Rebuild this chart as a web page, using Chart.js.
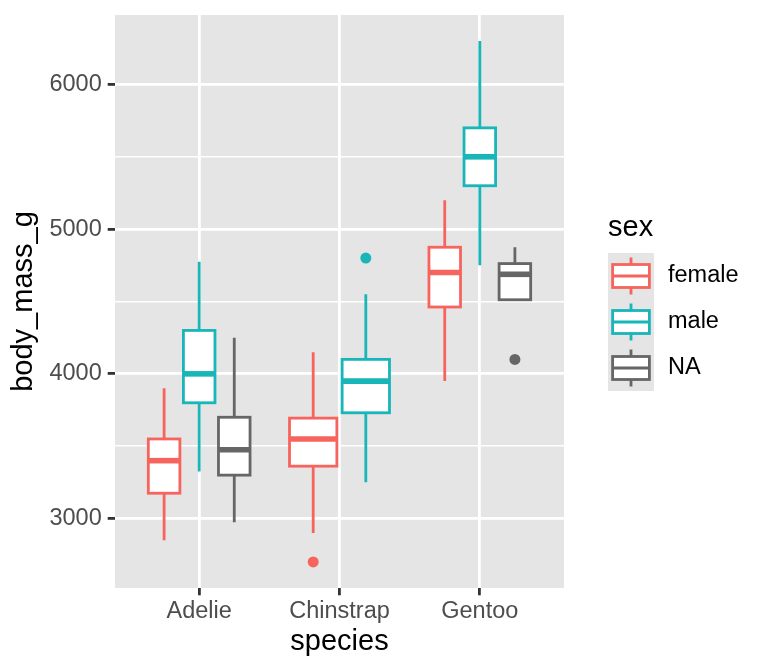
<!DOCTYPE html>
<html lang="en">
<head>
<meta charset="UTF-8">
<title>body_mass_g by species and sex</title>
<script src="https://cdn.jsdelivr.net/npm/chart.js"></script>
<style>
    html, body { margin: 0; padding: 0; background: #ffffff; }
    .wrap { width: 768px; height: 672px; position: relative; }
</style>
</head>
<body>
<div class="wrap"><canvas id="massChart"></canvas></div>
<script>
const species = ['Adelie', 'Chinstrap', 'Gentoo'];
const sexes = ['female', 'male', 'NA'];
const sexColors = ['#F6645D', '#18B5B9', '#666666'];

// [lower whisker, q1, median, q3, upper whisker] per species, null = no group
const femaleStats = [[2850, 3175, 3400, 3550, 3900], [2900, 3362, 3550, 3694, 4150], [3950, 4462, 4700, 4875, 5200]];
const maleStats = [[3325, 3800, 4000, 4300, 4775], [3250, 3731, 3950, 4100, 4550], [4750, 5300, 5500, 5700, 6300]];
const naStats = [[2975, 3300, 3475, 3700, 4250], null, [4512, 4512, 4688, 4762, 4875]];

const femaleOutliers = [[], [2700], []];
const maleOutliers = [[], [4800], []];
const naOutliers = [[], [], [4100]];

const yTicks = [3000, 3500, 4000, 4500, 5000, 5500, 6000];

const allStats = [femaleStats, maleStats, naStats];
const allOutliers = [femaleOutliers, maleOutliers, naOutliers];
const dodgeWidth = 0.75;
const panelGrey = '#E5E5E5';
const fontFamily = '"Liberation Sans", Arial, Helvetica, sans-serif';

// ggplot-style dodge: groups present in a species share the dodge width
function dodge(s, g) {
    const present = allStats.map((st, i) => st[s] ? i : -1).filter(i => i >= 0);
    const slot = dodgeWidth / present.length;
    const k = present.indexOf(g);
    return { x: s + 1 - dodgeWidth / 2 + slot * (k + 0.5), w: slot * 0.9 };
}

const panelBackground = {
    id: 'panelBackground',
    beforeDraw(chart) {
        const { ctx, chartArea: a } = chart;
        ctx.save();
        ctx.fillStyle = panelGrey;
        ctx.fillRect(a.left, a.top, a.right - a.left, a.bottom - a.top);
        ctx.restore();
    }
};

const boxPlot = {
    id: 'boxPlot',
    beforeDatasetsDraw(chart) {
        const { ctx, scales: { x, y } } = chart;
        chart.data.datasets.forEach((ds, g) => {
            ds.boxes.forEach((st, s) => {
                if (!st) return;
                const d = dodge(s, g);
                const cx = x.getPixelForValue(d.x);
                const left = x.getPixelForValue(d.x - d.w / 2);
                const right = x.getPixelForValue(d.x + d.w / 2);
                const [lo, q1, med, q3, hi] = st.map(v => y.getPixelForValue(v));
                ctx.save();
                ctx.strokeStyle = ds.backgroundColor;
                ctx.lineWidth = 2.8;
                ctx.beginPath();
                ctx.moveTo(cx, q3); ctx.lineTo(cx, hi);
                ctx.moveTo(cx, q1); ctx.lineTo(cx, lo);
                ctx.stroke();
                ctx.fillStyle = '#ffffff';
                ctx.fillRect(left, q3, right - left, q1 - q3);
                ctx.strokeRect(left, q3, right - left, q1 - q3);
                ctx.lineWidth = 5.6;
                ctx.beginPath();
                ctx.moveTo(left, med); ctx.lineTo(right, med);
                ctx.stroke();
                ctx.restore();
            });
        });
    }
};

// legend drawn like a ggplot guide: title, grey key column, box glyphs
const boxLegend = {
    id: 'boxLegend',
    afterDraw(chart) {
        const { ctx } = chart;
        const keyX = 608, keyTop = 253, keySize = 46;
        ctx.save();
        ctx.fillStyle = '#000000';
        ctx.font = '29px ' + fontFamily;
        ctx.textBaseline = 'alphabetic';
        ctx.textAlign = 'left';
        ctx.fillText('sex', keyX, 236);
        ctx.fillStyle = panelGrey;
        ctx.fillRect(keyX, keyTop, keySize, keySize * sexes.length);
        sexes.forEach((name, i) => {
            const cy = keyTop + keySize * (i + 0.5);
            const cx = keyX + keySize / 2;
            const bw = keySize * 0.8, bh = keySize * 0.5;
            ctx.strokeStyle = sexColors[i];
            ctx.lineWidth = 2.8;
            ctx.beginPath();
            ctx.moveTo(cx, cy - keySize * 0.4); ctx.lineTo(cx, cy - bh / 2);
            ctx.moveTo(cx, cy + bh / 2); ctx.lineTo(cx, cy + keySize * 0.4);
            ctx.stroke();
            ctx.fillStyle = '#ffffff';
            ctx.fillRect(cx - bw / 2, cy - bh / 2, bw, bh);
            ctx.strokeRect(cx - bw / 2, cy - bh / 2, bw, bh);
            ctx.beginPath();
            ctx.moveTo(cx - bw / 2, cy); ctx.lineTo(cx + bw / 2, cy);
            ctx.stroke();
            ctx.fillStyle = '#000000';
            ctx.font = '23.5px ' + fontFamily;
            ctx.textBaseline = 'middle';
            ctx.fillText(name, keyX + keySize + 14, cy);
        });
        ctx.restore();
    }
};

const datasets = sexes.map((name, g) => ({
    label: name,
    boxes: allStats[g],
    data: allOutliers[g].flatMap((vals, s) => vals.map(v => ({ x: dodge(s, g).x, y: v }))),
    backgroundColor: sexColors[g],
    borderWidth: 0,
    pointRadius: 5.5,
    pointHoverRadius: 5.5
}));

const isMinor = c => c.tick && c.tick.value % 1000 !== 0;

new Chart(document.getElementById('massChart').getContext('2d'), {
    type: 'scatter',
    data: { datasets },
    options: {
        responsive: true,
        maintainAspectRatio: false,
        animation: false,
        layout: { padding: { top: 15, right: 204, bottom: 0, left: 0 } },
        plugins: {
            legend: { display: false },
            tooltip: { enabled: false }
        },
        scales: {
            x: {
                type: 'linear',
                min: 0.4,
                max: 3.6,
                afterBuildTicks: axis => { axis.ticks = species.map((_, i) => ({ value: i + 1 })); },
                afterFit: axis => { axis.height = 84; axis.paddingLeft = 0; axis.paddingRight = 0; },
                border: { display: false },
                grid: { color: '#ffffff', lineWidth: 2.8, tickColor: '#333333', tickLength: 7.3, tickWidth: 2.8 },
                ticks: {
                    autoSkip: false,
                    maxRotation: 0,
                    padding: 2,
                    color: '#4D4D4D',
                    font: { family: fontFamily, size: 23.5 },
                    callback: v => species[v - 1]
                },
                title: {
                    display: true,
                    text: 'species',
                    color: '#000000',
                    font: { family: fontFamily, size: 29 },
                    padding: { top: 0, bottom: 12.6 }
                }
            },
            y: {
                min: 2520,
                max: 6480,
                afterBuildTicks: axis => { axis.ticks = yTicks.map(v => ({ value: v })); },
                afterFit: axis => { axis.width = 115; axis.paddingTop = 0; axis.paddingBottom = 0; },
                border: { display: false },
                grid: {
                    color: '#ffffff',
                    lineWidth: c => isMinor(c) ? 1.4 : 2.8,
                    tickColor: c => isMinor(c) ? 'rgba(0,0,0,0)' : '#333333',
                    tickLength: 7.3,
                    tickWidth: 2.8
                },
                ticks: {
                    autoSkip: false,
                    padding: 6,
                    color: '#4D4D4D',
                    font: { family: fontFamily, size: 23.5 },
                    callback: v => v % 1000 === 0 ? String(v) : ''
                },
                title: {
                    display: true,
                    text: 'body_mass_g',
                    color: '#000000',
                    font: { family: fontFamily, size: 29 },
                    padding: { top: 7, bottom: 0 }
                }
            }
        }
    },
    plugins: [panelBackground, boxPlot, boxLegend]
});
</script>
</body>
</html>
